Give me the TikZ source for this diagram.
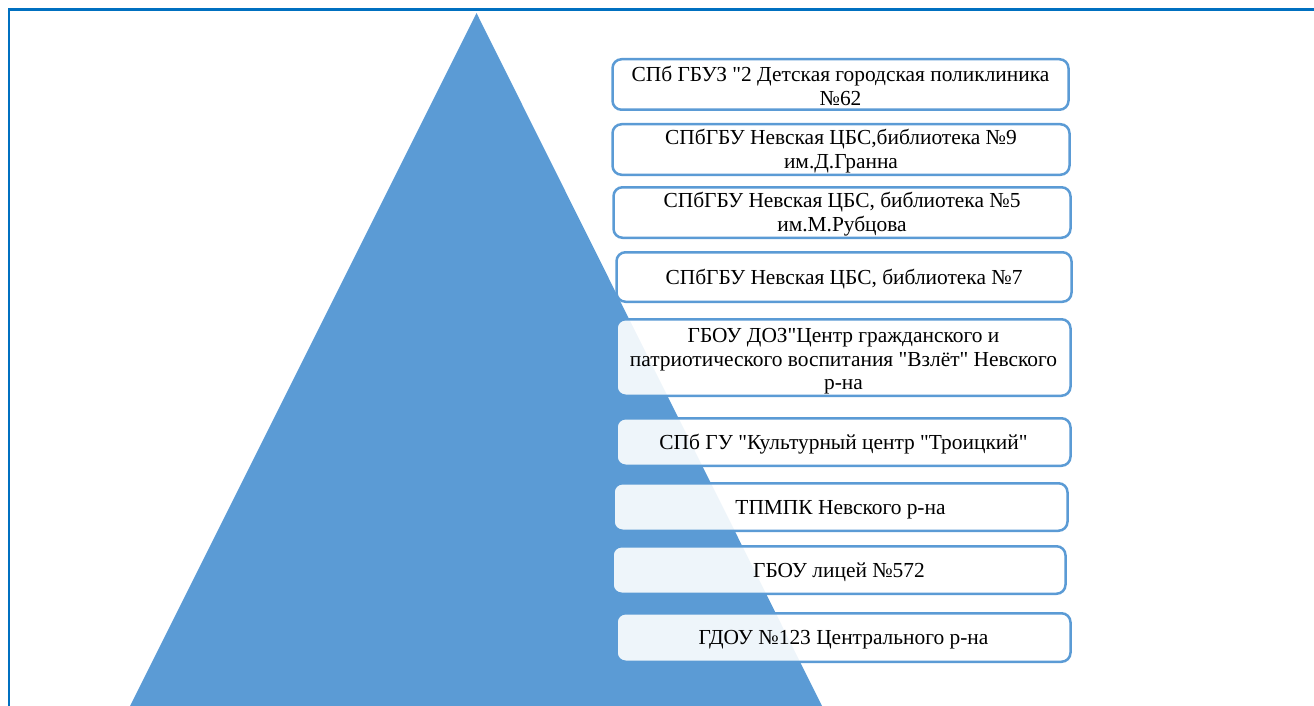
\documentclass[tikz,border=0pt]{standalone}
\usepackage{fontspec}
\setmainfont{Liberation Serif}[Ligatures=TeXOff]
\definecolor{tri}{HTML}{5B9BD5}
\definecolor{framec}{HTML}{0070C0}
\begin{document}
\begin{tikzpicture}[x=1pt,y=-1pt,
  box/.style={draw=tri, line width=2.5pt, rounded corners=9pt, fill=white,
    fill opacity=0.9, draw opacity=1, inner sep=0pt},
  boxtext/.style={align=center, font=\fontsize{21.4}{23.5}\selectfont, inner sep=0pt, text=black}]
\useasboundingbox (0,0) rectangle (1314,706);
\fill[tri] (476.5,13) -- (822,706) -- (130,706) -- cycle;
\draw[framec, line width=2.5pt] (9,706) -- (9,9.5) -- (1314,9.5);
\node[box, minimum width=456pt, minimum height=50.5pt] (b1) at (840.5,84.5) {};
\node[boxtext] (t1) at ([yshift=-1.5pt]b1.center) {СПб ГБУЗ "2 Детская городская поликлиника\\№62};
\node[box, minimum width=457pt, minimum height=50.5pt] (b2) at (841,149.5) {};
\node[boxtext] (t2) at ([yshift=-1.5pt]b2.center) {СПбГБУ Невская ЦБС,библиотека №9\\им.Д.Гранна};
\node[box, minimum width=457pt, minimum height=50.5pt] (b3) at (842,212.5) {};
\node[boxtext] (t3) at ([yshift=-1.5pt]b3.center) {СПбГБУ Невская ЦБС, библиотека №5\\им.М.Рубцова};
\node[box, minimum width=455pt, minimum height=49.5pt] (b4) at (844,277) {};
\node[boxtext] (t4) at ([yshift=-2.5pt]b4.center) {СПбГБУ Невская ЦБС, библиотека №7};
\node[box, minimum width=454pt, minimum height=76.5pt] (b5) at (843.5,357.5) {};
\node[boxtext] (t5) at ([yshift=-4pt]b5.center) {ГБОУ ДОЗ"Центр гражданского и\\патриотического воспитания "Взлёт" Невского\\р-на};
\node[box, minimum width=454pt, minimum height=47.5pt] (b6) at (843.5,442) {};
\node[boxtext] (t6) at ([yshift=-2.5pt]b6.center) {СПб ГУ "Культурный центр "Троицкий"};
\node[box, minimum width=454pt, minimum height=47.5pt] (b7) at (840.5,507) {};
\node[boxtext] (t7) at ([yshift=-2.5pt]b7.center) {ТПМПК Невского р-на};
\node[box, minimum width=453pt, minimum height=47.5pt] (b8) at (839,570) {};
\node[boxtext] (t8) at ([yshift=-2.5pt]b8.center) {ГБОУ лицей №572};
\node[box, minimum width=454pt, minimum height=48.5pt] (b9) at (843.5,637.5) {};
\node[boxtext] (t9) at ([yshift=-2.5pt]b9.center) {ГДОУ №123 Центрального р-на};
\end{tikzpicture}
\end{document}
